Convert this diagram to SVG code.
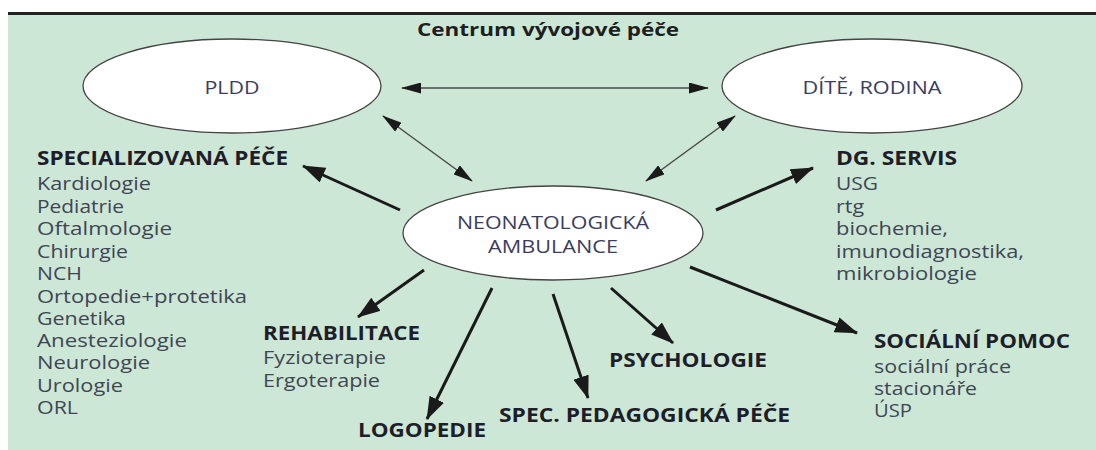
<svg xmlns="http://www.w3.org/2000/svg" width="1096" height="450" viewBox="0 0 1096 450">
<style>
.bg{fill:#cde7d6}
.ell{fill:#fff;stroke:#444;stroke-width:1.3}
.et{font-family:"Open Sans","Liberation Sans",sans-serif;font-size:17.5px;fill:#3a3d5c;text-anchor:middle}
.h{font-family:"Open Sans","Liberation Sans",sans-serif;font-size:19px;font-weight:bold;fill:#1e1e2a}
.b{font-family:"Open Sans","Liberation Sans",sans-serif;font-size:18px;fill:#404554}
.title{font-family:"Open Sans","Liberation Sans",sans-serif;font-size:17.5px;font-weight:bold;fill:#1e1e1e;text-anchor:middle}
.thin{stroke:#4a4a4a;stroke-width:1.5;fill:none;marker-start:url(#ah);marker-end:url(#ah)}
.thick{stroke:#1a1a1a;stroke-width:3;fill:none;marker-end:url(#ahb)}
</style>
<defs>
<marker id="ah" markerUnits="userSpaceOnUse" markerWidth="20" markerHeight="11" refX="19" refY="5.5" orient="auto-start-reverse" viewBox="0 0 20 11">
<path d="M0,0 L20,5.5 L0,11 Z" fill="#1a1a1a"/>
</marker>
<marker id="ahb" markerUnits="userSpaceOnUse" markerWidth="23" markerHeight="16" refX="22" refY="8" orient="auto" viewBox="0 0 23 16">
<path d="M0,0 L23,8 L0,16 Z" fill="#1a1a1a"/>
</marker>
</defs>
<rect class="bg" x="8" y="15" width="1088" height="435"/>
<rect x="8" y="12" width="1088" height="3" fill="#222"/>
<text class="title" x="548" y="36" textLength="262" lengthAdjust="spacingAndGlyphs">Centrum vývojové péče</text>

<g id="connectors">
<line class="thin" x1="402" y1="88" x2="708" y2="88"/>
<line class="thin" x1="383" y1="116" x2="472" y2="181"/>
<line class="thin" x1="735" y1="116" x2="646" y2="181"/>
<line class="thick" x1="400" y1="210" x2="303" y2="166"/>
<line class="thick" x1="716" y1="210" x2="813" y2="168"/>
<line class="thick" x1="424" y1="270" x2="358" y2="317"/>
<line class="thick" x1="492" y1="288" x2="427" y2="419"/>
<line class="thick" x1="553" y1="294" x2="588" y2="398"/>
<line class="thick" x1="611" y1="288" x2="673" y2="343"/>
<line class="thick" x1="690" y1="267" x2="857" y2="333"/>
</g>

<g id="pldd">
<ellipse class="ell" cx="232" cy="86" rx="149" ry="47"/>
<text class="et" x="232" y="94" textLength="55" lengthAdjust="spacingAndGlyphs">PLDD</text>
</g>
<g id="dite-rodina">
<ellipse class="ell" cx="872" cy="86" rx="150" ry="47"/>
<text class="et" x="872" y="94" textLength="139" lengthAdjust="spacingAndGlyphs">DÍTĚ, RODINA</text>
</g>
<g id="neonatologicka-ambulance">
<ellipse class="ell" cx="553" cy="233" rx="150" ry="47"/>
<text class="et" x="553" y="229" textLength="192" lengthAdjust="spacingAndGlyphs">NEONATOLOGICKÁ</text>
<text class="et" x="553" y="253" textLength="130" lengthAdjust="spacingAndGlyphs">AMBULANCE</text>
</g>

<g id="specializovana-pece">
<text class="h" x="37" y="165" textLength="251" lengthAdjust="spacingAndGlyphs">SPECIALIZOVANÁ PÉČE</text>
<text class="b" x="37" y="190" textLength="114" lengthAdjust="spacingAndGlyphs">Kardiologie</text>
<text class="b" x="37" y="213" textLength="87" lengthAdjust="spacingAndGlyphs">Pediatrie</text>
<text class="b" x="37" y="235" textLength="135" lengthAdjust="spacingAndGlyphs">Oftalmologie</text>
<text class="b" x="37" y="258" textLength="91" lengthAdjust="spacingAndGlyphs">Chirurgie</text>
<text class="b" x="37" y="280" textLength="45" lengthAdjust="spacingAndGlyphs">NCH</text>
<text class="b" x="37" y="303" textLength="210" lengthAdjust="spacingAndGlyphs">Ortopedie+protetika</text>
<text class="b" x="37" y="325" textLength="89" lengthAdjust="spacingAndGlyphs">Genetika</text>
<text class="b" x="37" y="347" textLength="150" lengthAdjust="spacingAndGlyphs">Anesteziologie</text>
<text class="b" x="37" y="369" textLength="113" lengthAdjust="spacingAndGlyphs">Neurologie</text>
<text class="b" x="37" y="392" textLength="86" lengthAdjust="spacingAndGlyphs">Urologie</text>
<text class="b" x="37" y="414" textLength="41" lengthAdjust="spacingAndGlyphs">ORL</text>
</g>

<g id="dg-servis">
<text class="h" x="836" y="165" textLength="121" lengthAdjust="spacingAndGlyphs">DG. SERVIS</text>
<text class="b" x="836" y="190" textLength="42" lengthAdjust="spacingAndGlyphs">USG</text>
<text class="b" x="836" y="213" textLength="28" lengthAdjust="spacingAndGlyphs">rtg</text>
<text class="b" x="836" y="235" textLength="112" lengthAdjust="spacingAndGlyphs">biochemie,</text>
<text class="b" x="836" y="258" textLength="188" lengthAdjust="spacingAndGlyphs">imunodiagnostika,</text>
<text class="b" x="836" y="280" textLength="141" lengthAdjust="spacingAndGlyphs">mikrobiologie</text>
</g>

<g id="rehabilitace">
<text class="h" x="263" y="340" textLength="157" lengthAdjust="spacingAndGlyphs">REHABILITACE</text>
<text class="b" x="263" y="364" textLength="123" lengthAdjust="spacingAndGlyphs">Fyzioterapie</text>
<text class="b" x="263" y="387" textLength="117" lengthAdjust="spacingAndGlyphs">Ergoterapie</text>
</g>

<g id="logopedie">
<text class="h" x="358" y="437" textLength="128" lengthAdjust="spacingAndGlyphs">LOGOPEDIE</text>
</g>

<g id="spec-pedagogicka-pece">
<text class="h" x="499" y="422" textLength="291" lengthAdjust="spacingAndGlyphs">SPEC. PEDAGOGICKÁ PÉČE</text>
</g>

<g id="psychologie">
<text class="h" x="609" y="367" textLength="158" lengthAdjust="spacingAndGlyphs">PSYCHOLOGIE</text>
</g>

<g id="socialni-pomoc">
<text class="h" x="874" y="348" textLength="196" lengthAdjust="spacingAndGlyphs">SOCIÁLNÍ POMOC</text>
<text class="b" x="874" y="373" textLength="137" lengthAdjust="spacingAndGlyphs">sociální práce</text>
<text class="b" x="874" y="395" textLength="103" lengthAdjust="spacingAndGlyphs">stacionáře</text>
<text class="b" x="874" y="417" textLength="38" lengthAdjust="spacingAndGlyphs">ÚSP</text>
</g>
</svg>
